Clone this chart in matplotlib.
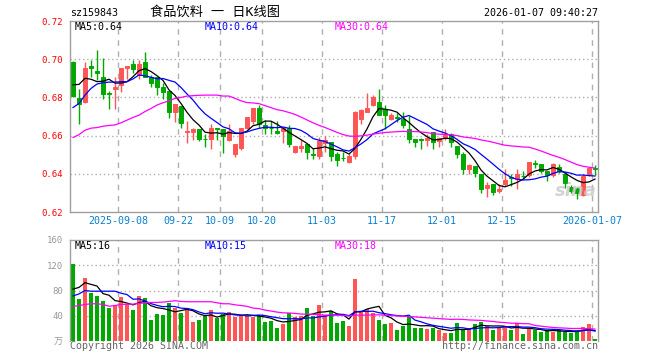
import numpy as np
import pandas as pd
import matplotlib
matplotlib.use("Agg")
import matplotlib.pyplot as plt

plt.rcParams['font.family'] = ['DejaVu Sans Mono', 'Noto Sans CJK SC']

# datos (88 velas diarias, 2025-08-27 .. 2026-01-07)
apertura = [0.6987, 0.6797, 0.6775, 0.6965, 0.6939, 0.6905, 0.6825, 0.6844, 0.6867, 0.6954,
            0.6975, 0.6916, 0.6986, 0.6909, 0.6905, 0.6856, 0.6835, 0.6725, 0.6754, 0.6618,
            0.6618, 0.6635, 0.6583, 0.6583, 0.6642, 0.6635, 0.6579, 0.6505, 0.6537, 0.6642,
            0.6677, 0.6742, 0.6653, 0.6642, 0.6625, 0.6625, 0.6639, 0.6512, 0.6533, 0.6558,
            0.6505, 0.6495, 0.6561, 0.6565, 0.6502, 0.6484, 0.6463, 0.6495, 0.6688, 0.6723,
            0.6758, 0.6777, 0.6737, 0.6688, 0.6697, 0.6686, 0.6632, 0.6582, 0.6582, 0.6579,
            0.6621, 0.6572, 0.6590, 0.6610, 0.6544, 0.6502, 0.6425, 0.6442, 0.6400, 0.6326,
            0.6347, 0.6309, 0.6347, 0.6382, 0.6372, 0.6390, 0.6393, 0.6456, 0.6449, 0.6414,
            0.6393, 0.6435, 0.6400, 0.6330, 0.6326, 0.6291, 0.6393, 0.6432]
maximo = [0.6990, 0.6842, 0.6986, 0.6996, 0.7049, 0.7007, 0.6833, 0.6909, 0.6954, 0.6965,
          0.6996, 0.6996, 0.7039, 0.6919, 0.6905, 0.6877, 0.6835, 0.6765, 0.6754, 0.6676,
          0.6642, 0.6635, 0.6607, 0.6663, 0.6642, 0.6635, 0.6663, 0.6554, 0.6642, 0.6695,
          0.6742, 0.6760, 0.6681, 0.6674, 0.6674, 0.6632, 0.6653, 0.6544, 0.6579, 0.6558,
          0.6537, 0.6593, 0.6597, 0.6565, 0.6512, 0.6512, 0.6502, 0.6730, 0.6740, 0.6821,
          0.6812, 0.6842, 0.6760, 0.6719, 0.6719, 0.6725, 0.6702, 0.6582, 0.6586, 0.6607,
          0.6621, 0.6593, 0.6632, 0.6614, 0.6544, 0.6512, 0.6453, 0.6442, 0.6400, 0.6358,
          0.6347, 0.6347, 0.6425, 0.6400, 0.6425, 0.6414, 0.6460, 0.6470, 0.6449, 0.6414,
          0.6456, 0.6449, 0.6410, 0.6340, 0.6330, 0.6400, 0.6432, 0.6446]
minimo = [0.6800, 0.6660, 0.6770, 0.6905, 0.6891, 0.6793, 0.6740, 0.6740, 0.6830, 0.6895,
          0.6926, 0.6895, 0.6905, 0.6853, 0.6814, 0.6793, 0.6693, 0.6670, 0.6642, 0.6561,
          0.6579, 0.6572, 0.6540, 0.6530, 0.6579, 0.6509, 0.6572, 0.6488, 0.6526, 0.6632,
          0.6663, 0.6642, 0.6607, 0.6607, 0.6607, 0.6561, 0.6540, 0.6509, 0.6512, 0.6477,
          0.6477, 0.6477, 0.6512, 0.6467, 0.6442, 0.6467, 0.6456, 0.6477, 0.6663, 0.6723,
          0.6754, 0.6707, 0.6632, 0.6681, 0.6670, 0.6642, 0.6561, 0.6540, 0.6530, 0.6544,
          0.6530, 0.6540, 0.6579, 0.6540, 0.6481, 0.6400, 0.6400, 0.6383, 0.6298, 0.6277,
          0.6288, 0.6298, 0.6337, 0.6337, 0.6323, 0.6372, 0.6383, 0.6428, 0.6404, 0.6361,
          0.6383, 0.6404, 0.6326, 0.6302, 0.6267, 0.6284, 0.6386, 0.6393]
cierre = [0.6807, 0.6768, 0.6954, 0.6954, 0.6930, 0.6818, 0.6820, 0.6853, 0.6954, 0.6965,
          0.6951, 0.6975, 0.6909, 0.6877, 0.6856, 0.6828, 0.6725, 0.6765, 0.6667, 0.6625,
          0.6635, 0.6583, 0.6580, 0.6642, 0.6635, 0.6600, 0.6625, 0.6554, 0.6642, 0.6695,
          0.6742, 0.6663, 0.6639, 0.6639, 0.6614, 0.6639, 0.6554, 0.6544, 0.6544, 0.6514,
          0.6500, 0.6572, 0.6576, 0.6495, 0.6474, 0.6481, 0.6491, 0.6725, 0.6733, 0.6744,
          0.6800, 0.6707, 0.6707, 0.6707, 0.6693, 0.6654, 0.6582, 0.6568, 0.6579, 0.6590,
          0.6568, 0.6590, 0.6604, 0.6568, 0.6502, 0.6425, 0.6446, 0.6404, 0.6323, 0.6340,
          0.6305, 0.6323, 0.6368, 0.6379, 0.6400, 0.6386, 0.6460, 0.6449, 0.6414, 0.6393,
          0.6449, 0.6414, 0.6351, 0.6312, 0.6302, 0.6390, 0.6432, 0.6426]
volumen = [122.7, 66, 100, 76, 70.8, 62.7, 53, 57.3, 69, 58.4,
           48.6, 70.8, 67.6, 34, 43, 41.6, 59.5, 53, 43.8, 53,
           30.3, 34, 39.5, 49.7, 35.7, 43, 46.5, 37.3, 41.6, 39.5,
           38.4, 40.5, 30.3, 31.9, 20.5, 27.6, 44.3, 38.4, 39.5, 53,
           39.5, 57.8, 41, 47.6, 29.2, 31.9, 23.8, 98.4, 48, 50.8,
           43.8, 33.5, 27, 28.6, 17.3, 23.8, 37.8, 20.5, 20.5, 18.9,
           20.5, 17.3, 12.4, 13, 28.6, 18.9, 20.5, 27, 30.3, 23.8,
           17.3, 21, 23.8, 17.3, 28.6, 10.8, 20.5, 17.3, 14, 17.3,
           14, 17.3, 14, 12.4, 17.3, 22.2, 27, 2.7]

# tramo inicial de las medias (depende de dias fuera del grafico)
ma5_inicio = [0.6866, 0.6868, 0.6900, 0.6895]
ma10_inicio = [0.6747, 0.6768, 0.6812, 0.6847, 0.6870, 0.6877, 0.6880, 0.6880, 0.6882]
ma30_inicio = [0.6590, 0.6605, 0.6628, 0.6639, 0.6642, 0.6649, 0.6653, 0.6656, 0.6667, 0.6681,
               0.6695, 0.6707, 0.6726, 0.6742, 0.6760, 0.6772, 0.6782, 0.6795, 0.6800, 0.6807,
               0.6809, 0.6811, 0.6812, 0.6812, 0.6812, 0.6807, 0.6807, 0.6795, 0.6782]
vma5_inicio = [82.2, 84.9, 92.4, 89.7]
vma10_inicio = [71.4, 74.6, 80.0, 78.9, 78.9, 78.9, 78.9, 78.9, 75.7]
vma30_inicio = [54.6, 56.2, 57.8, 59.0, 59.0, 57.8, 55.1, 56.2, 57.8, 58.4,
                58.4, 59.5, 60.5, 61.1, 61.1, 61.6, 62.7, 63.8, 62.7, 62.2,
                62.2, 62.2, 62.2, 62.2, 60.5, 59.0, 59.0, 57.3, 56.2]

idx_fechas = [8, 18, 25, 32, 42, 52, 62, 72, 87]
etiquetas_fechas = ['2025-09-08', '09-22', '10-09', '10-20', '11-03', '11-17', '12-01', '12-15', '2026-01-07']
ticks_precio = [0.62, 0.64, 0.66, 0.68, 0.70, 0.72]
ticks_vol = [0, 40, 80, 120, 160]
etiquetas_vol = ['万', '40', '80', '120', '160']

ROJO = '#ff5555'
VERDE = '#00a800'
GRIS = '#a0a0a0'


def media(serie, n, inicio):
    m = pd.Series(serie).rolling(n).mean().to_numpy()
    m[:len(inicio)] = inicio
    return m


n = len(cierre)
x = np.arange(n) + 0.5
o = np.array(apertura)
c = np.array(cierre)
colores = [ROJO if c[i] > o[i] else VERDE for i in range(n)]

W, H = 660, 360
fig = plt.figure(figsize=(6.6, 3.6), dpi=100)
fig.patch.set_facecolor('white')


def caja(x0, y0, x1, y1):
    return [x0 / W, 1 - y1 / H, (x1 - x0) / W, (y1 - y0) / H]


ax = fig.add_axes(caja(70, 21, 598, 212))
axv = fig.add_axes(caja(70, 240, 598, 341))

# velas
ax.vlines(x, minimo, maximo, colors=colores, linewidth=1)
ax.bar(x, np.abs(c - o), width=0.8, bottom=np.minimum(o, c), color=colores,
       edgecolor=colores, linewidth=0.7)
ax.plot(x, media(cierre, 5, ma5_inicio), color='black', lw=0.9)
ax.plot(x, media(cierre, 10, ma10_inicio), color='#0000ff', lw=0.9)
ax.plot(x, media(cierre, 30, ma30_inicio), color='#ff00ff', lw=0.9)

# volumen
axv.bar(x, volumen, width=0.8, color=colores, linewidth=0)
axv.plot(x, media(volumen, 5, vma5_inicio), color='black', lw=0.9)
axv.plot(x, media(volumen, 10, vma10_inicio), color='#0000ff', lw=0.9)
axv.plot(x, media(volumen, 30, vma30_inicio), color='#ff00ff', lw=0.9)

for a in (ax, axv):
    a.set_xlim(0, n)
    for s in a.spines.values():
        s.set_color(GRIS)
        s.set_linewidth(1)
    for k in idx_fechas:
        a.axvline(k, color='#b0b0b0', lw=1, ls=(0, (4, 4)), zorder=0)

ax.set_ylim(0.62, 0.72)
ax.set_yticks(ticks_precio)
ax.set_yticklabels(['%.2f' % t for t in ticks_precio], color='#ff0000', fontsize=6.5)
ax.set_xticks(idx_fechas)
ax.set_xticklabels(etiquetas_fechas, color='#0a80d0', fontsize=7.2)
ax.tick_params(length=0, pad=3)
ax.tick_params(axis='y', pad=5)
for t in ticks_precio[1:-1]:
    ax.axhline(t, color='#b0b0b0', lw=1, ls=(0, (1, 2)), zorder=0)

axv.set_ylim(0, 160)
axv.set_yticks(ticks_vol)
axv.set_yticklabels(etiquetas_vol, color='#999999', fontsize=6.5)
axv.set_xticks([])
axv.tick_params(length=0, pad=5)
axv.spines['bottom'].set_visible(False)
for t in ticks_vol[1:-1]:
    axv.axhline(t, color='#b0b0b0', lw=1, ls=(0, (1, 2)), zorder=0)


def texto(px, py, s, **kw):
    fig.text(px / W, 1 - py / H, s, va='center', **kw)


texto(70, 13, 'sz159843', fontsize=7.2, color='black')
texto(150, 12, '食品饮料 一 日K线图', fontsize=9.5, color='black')
texto(598, 13, '2026-01-07 09:40:27', fontsize=7.2, color='black', ha='right')

texto(75, 27, 'MA5:0.64', fontsize=7.2, color='black')
texto(205, 27, 'MA10:0.64', fontsize=7.2, color='#0000ff')
texto(335, 27, 'MA30:0.64', fontsize=7.2, color='#ff00ff')
texto(75, 246, 'MA5:16', fontsize=7.2, color='black')
texto(205, 246, 'MA10:15', fontsize=7.2, color='#0000ff')
texto(335, 246, 'MA30:18', fontsize=7.2, color='#ff00ff')

texto(70, 346, 'Copyright 2026 SINA.COM', fontsize=7.2, color='#666666')
texto(598, 346, 'http://finance.sina.com.cn', fontsize=7.2, color='#666666', ha='right')
texto(597, 191, 'sina', fontsize=13, color='#c8c8c8', ha='right', style='italic',
      weight='bold', family='DejaVu Sans', alpha=0.8)

fig.savefig('out.png', dpi=100)
